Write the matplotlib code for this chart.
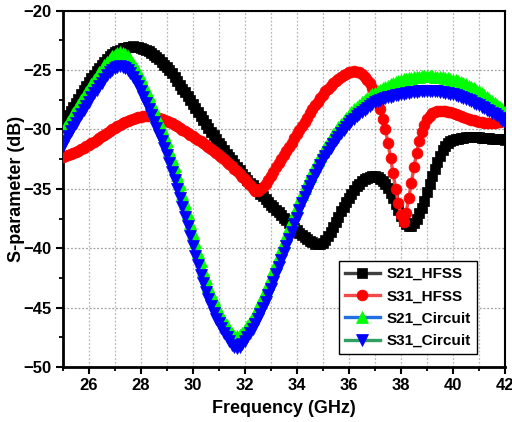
import numpy as np
import matplotlib
matplotlib.use("Agg")
import matplotlib.pyplot as plt

plt.rcParams['font.family'] = ['Liberation Sans', 'DejaVu Sans']
plt.rcParams['font.weight'] = 'bold'

# Frequency grid (GHz), 25.0 ... 42.0 in 0.1 GHz steps
freq = np.round(np.arange(250, 421) / 10.0, 1)

s21_hfss = [
    -29.5, -29.15, -28.8, -28.45, -28.1, -27.75, -27.4, -27.05, -26.7, -26.35,
    -26.0, -25.7, -25.4, -25.1, -24.8, -24.55, -24.3, -24.05, -23.85, -23.65,
    -23.5, -23.38, -23.27, -23.18, -23.1, -23.05, -23.02, -23.0, -23.02, -23.06,
    -23.12, -23.2, -23.3, -23.42, -23.56, -23.72, -23.9, -24.1, -24.32, -24.54,
    -24.75, -25.0, -25.28, -25.58, -25.9, -26.22, -26.55, -26.88, -27.21, -27.54,
    -27.87, -28.2, -28.53, -28.86, -29.19, -29.52, -29.85, -30.17, -30.49, -30.81,
    -31.12, -31.43, -31.73, -32.03, -32.32, -32.61, -32.89, -33.17, -33.44, -33.71,
    -33.97, -34.22, -34.47, -34.71, -34.95, -35.18, -35.41, -35.64, -35.87, -36.1,
    -36.32, -36.54, -36.76, -36.98, -37.2, -37.42, -37.64, -37.86, -38.08, -38.3,
    -38.5, -38.7, -38.88, -39.06, -39.22, -39.37, -39.5, -39.61, -39.68, -39.68,
    -39.55, -39.3, -39.0, -38.65, -38.25, -37.8, -37.35, -36.9, -36.5, -36.1,
    -35.75, -35.4, -35.1, -34.8, -34.55, -34.35, -34.2, -34.07, -33.98, -33.93,
    -33.93, -34.0, -34.15, -34.35, -34.6, -34.95, -35.35, -35.8, -36.3, -36.8,
    -37.3, -37.7, -37.95, -38.1, -38.1, -37.9, -37.5, -37.0, -36.6, -36.0,
    -35.3, -34.6, -33.9, -33.3, -32.7, -32.2, -31.75, -31.4, -31.15, -31.0,
    -30.9, -30.82, -30.76, -30.72, -30.69, -30.67, -30.66, -30.65, -30.65, -30.66,
    -30.67, -30.68, -30.7, -30.72, -30.74, -30.76, -30.78, -30.8, -30.82, -30.84,
    -30.86,
]

s31_hfss = [
    -32.3, -32.24, -32.17, -32.1, -32.0, -31.9, -31.8, -31.68, -31.56, -31.43,
    -31.3, -31.16, -31.02, -30.88, -30.73, -30.58, -30.43, -30.28, -30.13, -29.99,
    -29.85, -29.72, -29.6, -29.48, -29.37, -29.27, -29.18, -29.1, -29.03, -28.97,
    -28.93, -28.9, -28.88, -28.88, -28.9, -28.93, -28.97, -29.03, -29.1, -29.18,
    -29.27, -29.37, -29.48, -29.6, -29.73, -29.87, -30.01, -30.15, -30.29, -30.43,
    -30.57, -30.71, -30.85, -31.0, -31.15, -31.3, -31.46, -31.62, -31.79, -31.96,
    -32.14, -32.32, -32.51, -32.7, -32.9, -33.1, -33.31, -33.52, -33.74, -33.96,
    -34.18, -34.4, -34.65, -34.95, -35.15, -35.2, -35.05, -34.85, -34.55, -34.25,
    -33.9, -33.55, -33.2, -32.85, -32.5, -32.15, -31.8, -31.45, -31.1, -30.75,
    -30.4, -30.05, -29.7, -29.35, -29.0, -28.65, -28.3, -27.98, -27.66, -27.36,
    -27.07, -26.8, -26.55, -26.32, -26.1, -25.9, -25.72, -25.56, -25.42, -25.3,
    -25.2, -25.13, -25.1, -25.12, -25.2, -25.35, -25.55, -25.8, -26.1, -26.5,
    -27.0, -27.6, -28.3, -29.1, -30.0, -31.1, -32.4, -33.7, -35.0, -36.2,
    -37.2, -37.8, -37.0, -35.8, -34.5, -33.2, -32.0, -31.0, -30.2, -29.6,
    -29.15, -28.85, -28.65, -28.52, -28.45, -28.42, -28.42, -28.45, -28.5, -28.56,
    -28.63, -28.7, -28.78, -28.86, -28.94, -29.02, -29.1, -29.17, -29.24, -29.3,
    -29.35, -29.4, -29.43, -29.45, -29.46, -29.46, -29.44, -29.41, -29.37, -29.32,
    -29.27,
]

s21_circuit = [
    -30.2, -29.8, -29.4, -29.0, -28.65, -28.3, -27.9, -27.55, -27.2, -26.85,
    -26.5, -26.15, -25.8, -25.5, -25.2, -24.9, -24.6, -24.3, -24.05, -23.85,
    -23.7, -23.55, -23.5, -23.55, -23.65, -23.8, -24.1, -24.45, -24.8, -25.2,
    -25.6, -26.1, -26.6, -27.1, -27.65, -28.2, -28.75, -29.3, -29.85, -30.4,
    -31.0, -31.7, -32.4, -33.1, -33.85, -34.6, -35.4, -36.2, -37.0, -37.85,
    -38.7, -39.5, -40.3, -41.1, -41.8, -42.5, -43.15, -43.75, -44.3, -44.8,
    -45.25, -45.7, -46.1, -46.5, -46.85, -47.15, -47.35, -47.4, -47.3, -47.1,
    -46.85, -46.55, -46.2, -45.85, -45.45, -45.0, -44.55, -44.05, -43.55, -43.0,
    -42.45, -41.85, -41.25, -40.65, -40.05, -39.45, -38.85, -38.25, -37.65, -37.05,
    -36.5, -35.95, -35.4, -34.9, -34.4, -33.95, -33.5, -33.05, -32.6, -32.2,
    -31.8, -31.45, -31.1, -30.75, -30.4, -30.1, -29.8, -29.5, -29.25, -29.0,
    -28.75, -28.5, -28.3, -28.1, -27.9, -27.7, -27.52, -27.35, -27.2, -27.05,
    -26.9, -26.77, -26.65, -26.53, -26.42, -26.31, -26.2, -26.1, -26.0, -25.92,
    -25.85, -25.78, -25.72, -25.67, -25.63, -25.6, -25.57, -25.55, -25.53, -25.52,
    -25.52, -25.52, -25.53, -25.54, -25.55, -25.57, -25.6, -25.64, -25.69, -25.74,
    -25.8, -25.87, -25.94, -26.02, -26.1, -26.2, -26.3, -26.42, -26.54, -26.67,
    -26.8, -26.95, -27.1, -27.26, -27.43, -27.6, -27.77, -27.95, -28.13, -28.31,
    -28.5,
]

s31_circuit = [
    -31.35, -30.95, -30.55, -30.15, -29.8, -29.45, -29.05, -28.7, -28.35, -28.0,
    -27.65, -27.3, -26.95, -26.65, -26.35, -26.05, -25.75, -25.45, -25.2, -25.0,
    -24.85, -24.7, -24.65, -24.7, -24.8, -24.95, -25.25, -25.6, -25.95, -26.35,
    -26.75, -27.25, -27.75, -28.25, -28.8, -29.35, -29.9, -30.45, -31.0, -31.55,
    -32.15, -32.85, -33.55, -34.25, -35.0, -35.75, -36.55, -37.35, -38.15, -39.0,
    -39.85, -40.65, -41.45, -42.25, -42.95, -43.65, -44.3, -44.9, -45.45, -45.95,
    -46.3, -46.7, -47.1, -47.5, -47.85, -48.15, -48.35, -48.4, -48.3, -48.1,
    -47.85, -47.5, -47.15, -46.8, -46.4, -45.95, -45.5, -45.0, -44.5, -43.95,
    -43.4, -42.8, -42.2, -41.6, -41.0, -40.4, -39.8, -39.2, -38.6, -38.0,
    -37.45, -36.8, -36.2, -35.7, -35.2, -34.75, -34.3, -33.85, -33.4, -33.0,
    -32.6, -32.25, -31.9, -31.55, -31.2, -30.9, -30.6, -30.3, -30.05, -29.8,
    -29.55, -29.3, -29.1, -28.9, -28.7, -28.5, -28.32, -28.15, -28.0, -27.85,
    -27.7, -27.6, -27.52, -27.45, -27.37, -27.3, -27.24, -27.18, -27.12, -27.07,
    -27.02, -26.98, -26.94, -26.91, -26.88, -26.85, -26.82, -26.8, -26.78, -26.77,
    -26.77, -26.77, -26.78, -26.79, -26.8, -26.82, -26.85, -26.89, -26.94, -26.99,
    -27.05, -27.12, -27.19, -27.27, -27.35, -27.44, -27.53, -27.63, -27.73, -27.84,
    -27.95, -28.07, -28.19, -28.32, -28.45, -28.59, -28.73, -28.88, -29.03, -29.19,
    -29.35,
]

labels = ["S21_HFSS", "S31_HFSS", "S21_Circuit", "S31_Circuit"]
xticks = [26, 28, 30, 32, 34, 36, 38, 40, 42]
yticks = [-50, -45, -40, -35, -30, -25, -20]

fig = plt.figure(figsize=(5.12, 4.22), dpi=100)
ax = fig.add_axes([0.1225, 0.1303, 0.8638, 0.8443])

ax.plot(freq, s21_hfss, color="#404040", lw=2.4, marker="s", ms=7.4,
        mfc="black", mec="black", mew=0.5, label=labels[0], zorder=3)
ax.plot(freq, s31_hfss, color="#f04a4a", lw=2.4, marker="o", ms=7.8,
        mfc="red", mec="red", mew=0.5, label=labels[1], zorder=4)
ax.plot(freq, s21_circuit, color="#2070e0", lw=2.4, marker="^", ms=8.6,
        mfc="#00ff00", mec="#00ff00", mew=0.5, label=labels[2], zorder=5)
ax.plot(freq, s31_circuit, color="#30a060", lw=2.4, marker="v", ms=8.6,
        mfc="#0000ff", mec="#0000ff", mew=0.5, label=labels[3], zorder=6)

ax.set_xlim(25, 42)
ax.set_ylim(-50, -20)
ax.set_xticks(xticks)
ax.set_yticks(yticks)
ax.set_xticks(np.arange(25, 43, 1), minor=True)
ax.set_yticks(np.arange(-50, -19, 2.5), minor=True)
ax.tick_params(axis='both', which='major', direction='out', length=5, width=1.5,
               labelsize=12, pad=3, top=False, right=False)
ax.tick_params(axis='both', which='minor', direction='out', length=2.8, width=1.3,
               top=False, right=False)
for lab in ax.get_xticklabels() + ax.get_yticklabels():
    lab.set_fontweight('bold')

ax.grid(True, which='major', axis='y', color='#a0a0a0', linestyle=(0, (1.5, 1.5)), lw=0.9)
ax.grid(True, which='both', axis='x', color='#b8b8b8', linestyle=(0, (1.5, 1.5)), lw=0.9)
ax.set_axisbelow(True)

for side in ['left', 'bottom']:
    ax.spines[side].set_linewidth(2.0)
for side in ['top', 'right']:
    ax.spines[side].set_linewidth(1.5)

ax.set_xlabel("Frequency (GHz)", fontsize=13, fontweight='bold', labelpad=5)
ax.set_ylabel("S-parameter (dB)", fontsize=13, fontweight='bold')
ax.yaxis.set_label_coords(-0.085, 0.5)

leg = ax.legend(loc='lower right', bbox_to_anchor=(0.937, 0.036), fontsize=11,
                frameon=True, fancybox=False, framealpha=1, edgecolor='black',
                handlelength=2.3, handletextpad=0.45, labelspacing=0.55,
                borderpad=0.4, borderaxespad=0.0, markerscale=1.0)
leg.get_frame().set_linewidth(1.0)
for t in leg.get_texts():
    t.set_fontweight('bold')

fig.savefig("out.png", dpi=100)
